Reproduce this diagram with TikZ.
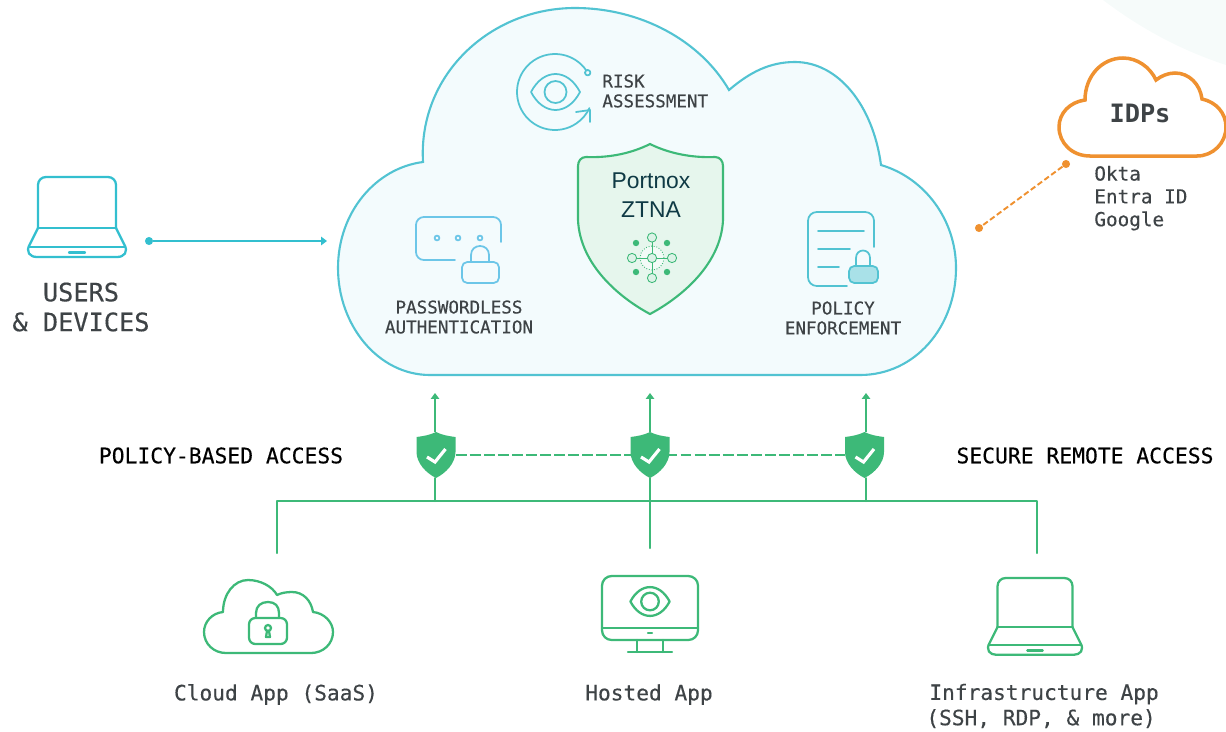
\documentclass[tikz,border=0pt]{standalone}
\usepackage{fontspec}
\setmainfont{Liberation Sans}
\setmonofont{DejaVu Sans Mono}
\newfontfamily\lblfont[FakeBold=0.35]{DejaVu Sans Mono}
\usetikzlibrary{arrows.meta}
\definecolor{ztgreen}{HTML}{3DB978}
\definecolor{ztcyan}{HTML}{33BFCF}
\definecolor{ztcloud}{HTML}{52C3D2}
\definecolor{ztblue}{HTML}{6CC6E8}
\definecolor{ztorange}{HTML}{EF9130}
\definecolor{ztlabel}{HTML}{3E4346}
\definecolor{ztdark}{HTML}{0F3A45}
\definecolor{ztfill}{HTML}{F3FBFD}
\definecolor{ztcorner}{HTML}{F6FBFA}
\tikzset{>={Triangle[length=3.4pt,width=4.8pt]}}
\tikzset{lbl/.style={align=center,inner sep=0pt,text=ztlabel}}
\tikzset{lblbig/.style={lbl,font=\fontsize{14.4}{17}\selectfont\lblfont}}
\tikzset{lblicon/.style={lbl,font=\fontsize{10}{11.3}\selectfont\lblfont}}
\tikzset{lblapp/.style={lbl,font=\fontsize{12.05}{14.4}\selectfont\lblfont}}
\tikzset{lblidp/.style={lbl,align=left,font=\fontsize{11}{13}\selectfont\lblfont}}
\tikzset{lblaccess/.style={lbl,text=black,font=\fontsize{12.15}{14}\selectfont\lblfont}}
\tikzset{portdot/.style={circle,inner sep=0pt,minimum size=4.6pt}}
\tikzset{gatebox/.style={inner sep=0pt,minimum width=22pt,minimum height=26pt}}
\tikzset{line/.style={line width=1.3pt,ztgreen,line cap=round,line join=round}}
\tikzset{thinicon/.style={line width=1pt,line cap=round,line join=round}}
\tikzset{
  gateshield/.pic={
    \fill[ztgreen] (0,-23) .. controls (-6,-20) and (-12,-19) .. (-19.5,-18)
      -- (-19.5,-3) .. controls (-19.5,8) and (-10,18) .. (0,23)
      .. controls (10,18) and (19.5,8) .. (19.5,-3) -- (19.5,-18)
      .. controls (12,-19) and (6,-20) .. (0,-23) -- cycle;
    \draw[white,line width=1.8pt] (-9,2) -- (-1,7) -- (9.5,-6);
  },
  eyepic/.pic={
    \draw (-24.5,0) .. controls (-12,-24) and (12,-24) .. (24.5,0)
      .. controls (12,24) and (-12,24) .. (-24.5,0) -- cycle;
    \draw (0,0) circle (11);
  },
  laptop/.pic={
    \draw[rounded corners=4.5pt] (-39,0) -- (-39,-51) -- (39,-51) -- (39,0);
    \draw (-39,0) -- (39,0);
    \draw (-39,0) -- (-47,16) .. controls (-52,24) and (-47,29) .. (-40,29)
      -- (40,29) .. controls (47,29) and (52,24) .. (47,16) -- (39,0);
    \draw (-48,19) -- (48,19);
    \draw (-8,24.5) -- (8,24.5);
  }
}
\begin{document}
\begin{tikzpicture}[x=0.02cm,y=-0.02cm]
\useasboundingbox (0,0) rectangle (1226,731);

\fill[ztcorner] (1103,0) .. controls (1140,28) and (1180,50) .. (1226,65) -- (1226,0) -- cycle;

% main cloud
\draw[ztcloud,fill=ztfill,line width=1.2pt] (430,375)
 .. controls (378,375) and (338,325) .. (338,268)
 .. controls (338,212) and (376,168) .. (423,162)
 .. controls (418,75) and (490,8) .. (575,8)
 .. controls (640,8) and (700,40) .. (729,90)
 .. controls (750,72) and (770,62) .. (795,62)
 .. controls (838,62) and (873,105) .. (881,165)
 .. controls (925,178) and (956,220) .. (956,268)
 .. controls (956,327) and (915,375) .. (860,375) -- cycle;

% risk assessment
\begin{scope}[ztcloud,thinicon]
\pic at (555.5,92) {eyepic};
\draw (555,92) ++(-34:38) arc[start angle=-34,end angle=-335,radius=38];
\draw[fill=ztfill] (587.7,72.7) circle (2.7);
\draw (576,112) -- (590,110) -- (590,122);
\end{scope}
\node[lblicon,align=left,anchor=west] (risk) at (602,91) {RISK\\ASSESSMENT};

% passwordless
\begin{scope}[ztblue,thinicon]
\draw[rounded corners=4.5pt] (501,242) -- (501,217) -- (416,217) -- (416,260) -- (455,260);
\foreach \x in {437,458,480} {
  \draw (\x,238) circle (2.4);
}
\draw[rounded corners=3pt] (462,262) rectangle (499,283);
\draw (471,262) -- (471,255) .. controls (471,243) and (489,243) .. (489,255) -- (489,262);
\end{scope}
\node[lblicon] (pwless) at (459,317) {PASSWORDLESS\\AUTHENTICATION};

% policy
\begin{scope}[ztcloud,thinicon]
\draw[rounded corners=5pt] (874,247) -- (874,212) -- (808,212) -- (808,286) -- (847,286);
\draw (818,231) -- (864,231);
\draw (818,249) -- (850,249);
\draw (818,267) -- (839,267);
\draw[fill=ztcloud!50,rounded corners=3pt] (849,266) rectangle (878,283);
\draw (856,266) -- (856,258) .. controls (856,248) and (870,248) .. (870,258) -- (870,266);
\end{scope}
\node[lblicon] (policy) at (843,318) {POLICY\\ENFORCEMENT};

% ztna shield
\draw[ztgreen,fill=ztgreen!13,line width=1.2pt] (650,144)
 .. controls (632,153) and (610,158) .. (586,157)
 .. controls (581,157) and (578,161) .. (578,166)
 -- (578,220)
 .. controls (580,265) and (620,298) .. (650,314)
 .. controls (680,298) and (721,265) .. (723,220)
 -- (723,166)
 .. controls (723,161) and (720,157) .. (715,157)
 .. controls (691,158) and (668,153) .. (650,144) -- cycle;
\node[inner sep=0pt,align=center,text=ztdark,font=\fontsize{13}{16.2}\selectfont] (ztna) at (651,195) {Portnox\\ZTNA};

\begin{scope}[ztgreen,line width=.5pt]
\draw[densely dotted,fill=white!40!ztgreen!10] (652,258) circle (12);
\draw (652,242) -- (652,274);
\draw (636,258) -- (668,258);
\foreach \x/\y in {652/237.5,632/258,672/258,652/278,652/258} {
  \draw[fill=ztgreen!18] (\x,\y) circle (4.6);
}
\foreach \x/\y in {636/243,667/243,636/272,667/272} {
  \fill (\x,\y) circle (3.2);
}
\end{scope}

% users
\begin{scope}[ztcyan,line width=1.3pt,line cap=round,line join=round]
\pic at (77,228) {laptop};
\end{scope}
\node[lblbig] (users) at (81,307) {USERS\\\& DEVICES};
\node[portdot,fill=ztcyan] (userport) at (149,241) {};
\coordinate (cloudin) at (327,241);
\draw[->,ztcyan,line width=1.2pt] (userport) -- (cloudin);

% idps
\draw[ztorange,line width=2pt] (1090,156)
 .. controls (1072,156) and (1059,143) .. (1059,127)
 .. controls (1059,113) and (1070,102) .. (1085,100)
 .. controls (1085,76) and (1102,58) .. (1123,58)
 .. controls (1137,58) and (1150,67) .. (1156,80)
 .. controls (1161,76) and (1168,73) .. (1175,73)
 .. controls (1189,73) and (1200,84) .. (1202,99)
 .. controls (1216,102) and (1226,113) .. (1226,127)
 .. controls (1226,143) and (1213,156) .. (1197,156) -- cycle;
\node[lbl,font=\fontsize{14.4}{17}\selectfont\ttfamily\bfseries] (idps) at (1140,113) {IDPs};
\node[lblidp,anchor=north west] (idplist) at (1094,165.5) {Okta\\Entra ID\\Google};
\node[portdot,fill=ztorange] (idpa) at (1066,164) {};
\node[portdot,fill=ztorange] (idpb) at (979,228) {};
\draw[ztorange,line width=1.1pt,dash pattern=on 3.2pt off 1.6pt] (idpa) -- (idpb);

% access gates
\node[gatebox] (gatel) at (436,455) {};
\node[gatebox] (gatem) at (650,455) {};
\node[gatebox] (gater) at (864.5,455) {};
\coordinate (topl) at (435,393);
\coordinate (topm) at (650,393);
\coordinate (topr) at (866,393);
\coordinate (busl) at (277,501);
\coordinate (busr) at (1037,501);
\coordinate (appl) at (277,553);
\coordinate (appm) at (650,548);
\coordinate (appr) at (1037,553);

\draw[line,line cap=butt,dash pattern=on 6.2pt off 1.8pt] (gatel) -- (gater);
\draw[line] (appl) -- (busl) -- (busr) -- (appr);
\draw[line] (gatem.south) -- (appm);
\draw[line] (gatel.south -| topl) -- (topl |- busl);
\draw[line] (gater.south -| topr) -- (topr |- busr);
\draw[->,line,line cap=butt] (gatel.north -| topl) -- (topl);
\draw[->,line,line cap=butt] (gatem.north) -- (topm);
\draw[->,line,line cap=butt] (gater.north -| topr) -- (topr);
\pic at (gatel) {gateshield};
\pic at (gatem) {gateshield};
\pic at (gater) {gateshield};

\node[lblaccess] (pba) at (221,455.5) {POLICY-BASED ACCESS};
\node[lblaccess] (sra) at (1085,455.5) {SECURE REMOTE ACCESS};

% apps
\begin{scope}[ztgreen,line width=1.3pt,line cap=round,line join=round]
\draw (226,653)
 .. controls (214,653) and (204,644) .. (204,632)
 .. controls (204,622) and (212,613) .. (223,612)
 .. controls (223,594) and (234,580) .. (248,580)
 .. controls (260,580) and (272,586) .. (277,595)
 .. controls (281,593) and (286,592) .. (292,592)
 .. controls (303,592) and (311,600) .. (313,612)
 .. controls (324,613) and (333,622) .. (333,632)
 .. controls (333,644) and (323,653) .. (311,653) -- cycle;
\draw[rounded corners=3.6pt] (249,618) rectangle (287,644);
\draw (256,618) -- (256,613) .. controls (256,606) and (261,602) .. (268,602)
 .. controls (275,602) and (279,606) .. (279,613) -- (279,618);
\draw (268,628) circle (3);
\draw (266,637) -- (270,637) -- (269,631) -- (267,631) -- cycle;

\draw[rounded corners=5.5pt] (602,576) rectangle (698,640);
\draw (602,628) -- (698,628);
\draw (648,633) -- (652,633);
\draw (637,640) -- (637,652);
\draw (663,640) -- (663,652);
\draw (628,652) -- (672,652);
\pic[scale=.8] at (650,601.5) {eyepic};

\pic[scale=.96] at (1035,627) {laptop};
\end{scope}
\node[lblapp] (saas) at (276,694.5) {Cloud App (SaaS)};
\node[lblapp] (hosted) at (649,694.5) {Hosted App};
\node[lblapp,align=left,anchor=west] (infra) at (926,706) {\hspace*{1.7pt}Infrastructure App\\(SSH, RDP, \& more)};

\end{tikzpicture}
\end{document}
